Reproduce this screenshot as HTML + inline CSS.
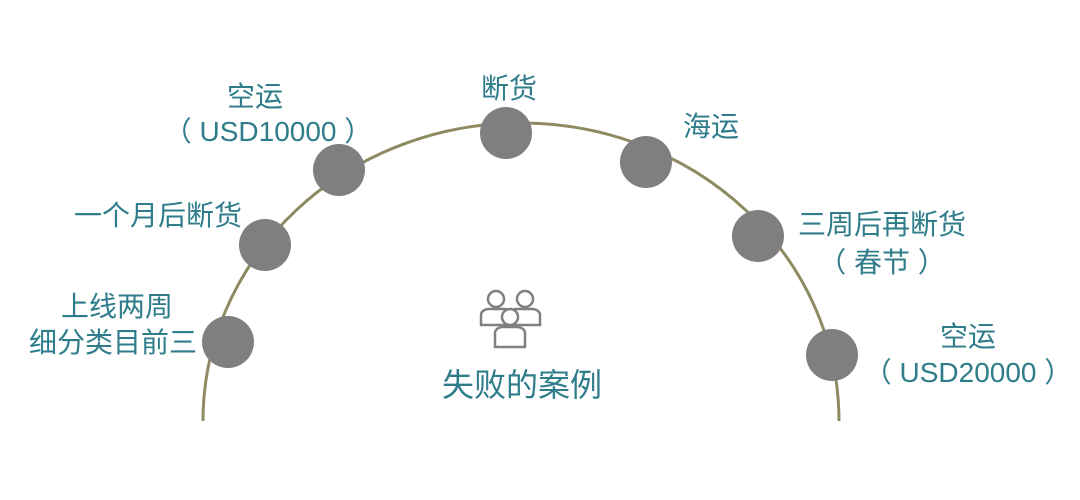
<!DOCTYPE html>
<html><head><meta charset="utf-8"><style>
html,body{margin:0;padding:0;background:#fff;}
svg{display:block}
text{font-family:"Liberation Sans","Noto Sans CJK SC",sans-serif;fill:#2f7d8b;font-size:28px;text-anchor:middle}
</style></head><body>
<svg width="1080" height="500" viewBox="0 0 1080 500">
<path d="M203,421 A318,298 0 0 1 839,421" fill="none" stroke="#8e8b62" stroke-width="3"/>
<g fill="#7f7f7f">
<circle cx="228" cy="342" r="26"/>
<circle cx="265" cy="245" r="26"/>
<circle cx="339" cy="170" r="26"/>
<circle cx="506" cy="133" r="26"/>
<circle cx="646" cy="162" r="26"/>
<circle cx="758" cy="236" r="26"/>
<circle cx="832" cy="355" r="26"/>
</g>
<g fill="#fff" stroke="#808080" stroke-width="2.5">
<circle cx="496" cy="299" r="8"/>
<circle cx="525" cy="299" r="8"/>
<path d="M481,325 v-10 a8,6 0 0 1 8,-6 h15 a8,6 0 0 1 8,6 v10 z"/>
<path d="M509,325 v-10 a8,6 0 0 1 8,-6 h15 a8,6 0 0 1 8,6 v10 z"/>
<circle cx="510" cy="317" r="8"/>
<path d="M495,347 v-14 a8,6 0 0 1 8,-6 h14 a8,6 0 0 1 8,6 v14 z"/>
</g>
<text x="255" y="106">空运</text>
<text x="268" y="141">（ USD10000 ）</text>
<text x="158" y="225">一个月后断货</text>
<text x="117" y="316">上线两周</text>
<text x="113" y="352">细分类目前三</text>
<text x="509" y="98">断货</text>
<text x="711" y="136">海运</text>
<text x="882" y="234">三周后再断货</text>
<text x="882" y="272">（ 春节 ）</text>
<text x="968" y="346">空运</text>
<text x="968" y="382">（ USD20000 ）</text>
<text x="522" y="396" style="font-size:32px">失败的案例</text>
</svg>
</body></html>
